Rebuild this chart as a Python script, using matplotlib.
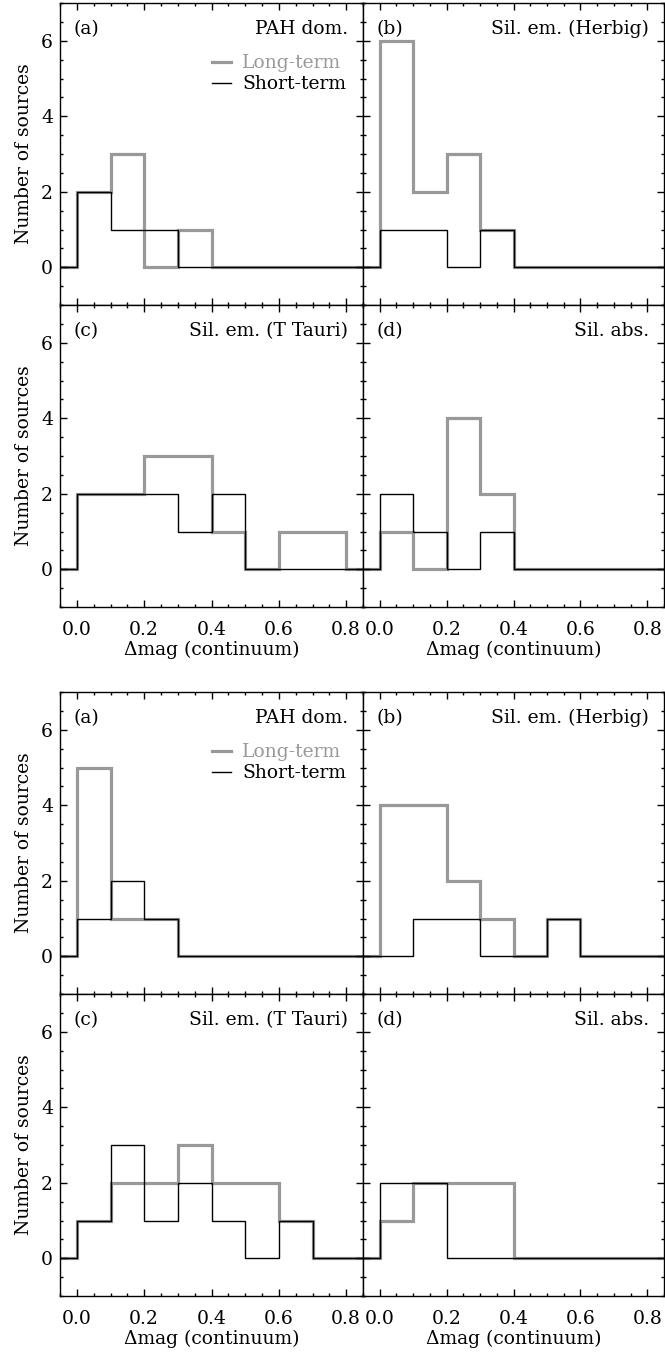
import numpy as np
import matplotlib
matplotlib.use("Agg")
import matplotlib.pyplot as plt
from matplotlib.ticker import MultipleLocator

plt.rcParams['font.family'] = ['DejaVu Serif']
plt.rcParams['font.size'] = 13.5

# bin edges: one empty bin before 0.0, then 0.0 ... 0.9 in steps of 0.1
bin_edges = np.round(np.arange(-0.1, 0.95, 0.1), 2)

panel_tags = ["(a)", "(b)", "(c)", "(d)"]
panel_names = ["PAH dom.", "Sil. em. (Herbig)", "Sil. em. (T Tauri)", "Sil. abs."]

# counts for bins 0.0-0.1, 0.1-0.2, ..., 0.8-0.9
# upper figure
long_top = [
    [2, 3, 0, 1, 0, 0, 0, 0, 0],
    [6, 2, 3, 1, 0, 0, 0, 0, 0],
    [2, 2, 3, 3, 1, 0, 1, 1, 0],
    [1, 0, 4, 2, 0, 0, 0, 0, 0],
]
short_top = [
    [2, 1, 1, 0, 0, 0, 0, 0, 0],
    [1, 1, 0, 1, 0, 0, 0, 0, 0],
    [2, 2, 2, 1, 2, 0, 0, 0, 0],
    [2, 1, 0, 1, 0, 0, 0, 0, 0],
]
# lower figure
long_bot = [
    [5, 1, 1, 0, 0, 0, 0, 0, 0],
    [4, 4, 2, 1, 0, 1, 0, 0, 0],
    [1, 2, 2, 3, 2, 2, 1, 0, 0],
    [1, 2, 2, 2, 0, 0, 0, 0, 0],
]
short_bot = [
    [1, 2, 1, 0, 0, 0, 0, 0, 0],
    [0, 1, 1, 0, 0, 1, 0, 0, 0],
    [1, 3, 1, 2, 1, 0, 1, 0, 0],
    [2, 2, 0, 0, 0, 0, 0, 0, 0],
]

gray = '#999999'

fig = plt.figure(figsize=(6.65, 13.53), dpi=100)

left, right = 60 / 665, 664 / 665
mid = 363 / 665
H = 1353.0


def draw_block(top_px, bot_px, long_counts, short_counts):
    mid_px = (top_px + bot_px) / 2
    rows = [(top_px, mid_px), (mid_px, bot_px)]
    for k in range(4):
        r, c = divmod(k, 2)
        t, b = rows[r]
        x0 = left if c == 0 else mid
        x1 = mid if c == 0 else right
        ax = fig.add_axes([x0, 1 - b / H, x1 - x0, (b - t) / H])

        ax.stairs([0] + long_counts[k], bin_edges, color=gray, lw=2.3,
                  baseline=None, label='Long-term')
        ax.stairs([0] + short_counts[k], bin_edges, color='black', lw=1.0,
                  baseline=None, label='Short-term')

        ax.set_xlim(-0.05, 0.85)
        ax.set_ylim(-1, 7)
        ax.xaxis.set_major_locator(MultipleLocator(0.2))
        ax.xaxis.set_minor_locator(MultipleLocator(0.05))
        ax.yaxis.set_major_locator(MultipleLocator(2))
        ax.yaxis.set_minor_locator(MultipleLocator(0.5))
        ax.tick_params(which='both', direction='in', top=True, right=True,
                       width=1.0)
        ax.tick_params(which='major', length=5)
        ax.tick_params(which='minor', length=2.5)
        ax.tick_params(axis='x', pad=10)
        ax.tick_params(axis='y', pad=5)
        for s in ax.spines.values():
            s.set_linewidth(1.0)
        ax.xaxis.set_major_formatter(plt.FuncFormatter(lambda v, p: f"{v:.1f}"))

        if c == 1:
            ax.set_yticklabels([])
        else:
            ax.set_ylabel('Number of sources', labelpad=6)
        if r == 0:
            ax.set_xticklabels([])
        else:
            ax.set_xlabel('Δmag (continuum)', labelpad=1)

        ax.text(0.045, 0.914, panel_tags[k], transform=ax.transAxes,
                ha='left', va='center')
        ax.text(0.95, 0.914, panel_names[k], transform=ax.transAxes,
                ha='right', va='center')

        if k == 0:
            leg = ax.legend(loc='upper right', bbox_to_anchor=(0.945, 0.83),
                            frameon=False, handlelength=1.0, handletextpad=0.6,
                            labelspacing=0.15, borderpad=0, borderaxespad=0)
            leg.get_texts()[0].set_color(gray)


draw_block(3, 607, long_top, short_top)
draw_block(692, 1296, long_bot, short_bot)

fig.savefig('out.png', dpi=100)
